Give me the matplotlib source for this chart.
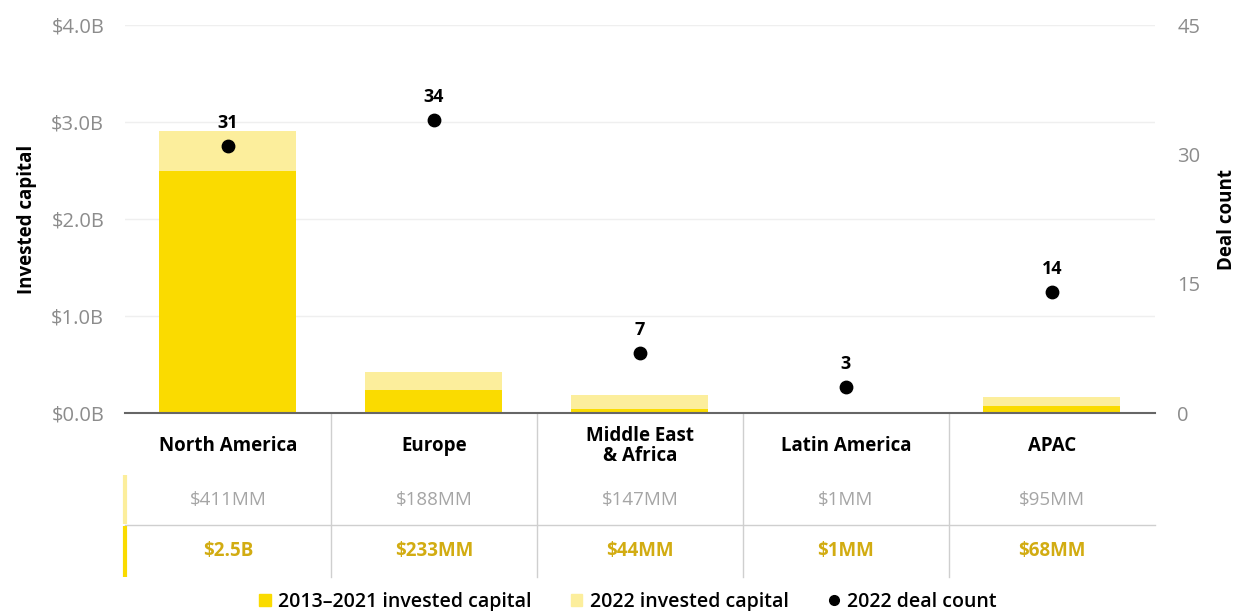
import matplotlib.pyplot as plt
from matplotlib.patches import Patch
from matplotlib.lines import Line2D

regions = ["North America", "Europe", "Middle East\n& Africa", "Latin America", "APAC"]
capital_2013_2021 = [2.5, 0.233, 0.044, 0.001, 0.068]   # $B
capital_2022 = [0.411, 0.188, 0.147, 0.001, 0.095]      # $B
deal_count_2022 = [31, 34, 7, 3, 14]
row_2022 = ["$411MM", "$188MM", "$147MM", "$1MM", "$95MM"]
row_2013_2021 = ["$2.5B", "$233MM", "$44MM", "$1MM", "$68MM"]

YELLOW = "#FADB00"
LIGHT_YELLOW = "#FCEE9C"
GOLD = "#D2AC12"
GREY = "#A5A5A5"
TICK_GREY = "#8C8C8C"

plt.rcParams['font.family'] = ['Open Sans', 'DejaVu Sans']

fig = plt.figure(figsize=(12.41, 6.11), dpi=100)
ax = fig.add_axes([0.1007, 0.324, 0.83, 0.635])
x = list(range(len(regions)))

ax.bar(x, capital_2013_2021, width=0.665, color=YELLOW, zorder=2)
ax.bar(x, capital_2022, width=0.665, bottom=capital_2013_2021, color=LIGHT_YELLOW, zorder=2)

ax.set_xlim(-0.5, len(regions) - 0.5)
ax.set_ylim(0, 4.0)
ax.set_yticks([0, 1, 2, 3, 4])
ax.set_yticklabels([f"${v:.1f}B" for v in [0, 1, 2, 3, 4]])
ax.grid(axis="y", color="#EFEFEF", linewidth=1, zorder=0)
ax.set_xticks([])
for s in ["top", "right", "left"]:
    ax.spines[s].set_visible(False)
ax.spines["bottom"].set_color("#666666")
ax.spines["bottom"].set_linewidth(1.5)
ax.tick_params(axis="y", length=0, pad=15, labelsize=14.5, labelcolor=TICK_GREY)
ax.set_ylabel("Invested capital", fontsize=13.5, fontweight="bold", labelpad=10)

ax2 = ax.twinx()
ax2.set_ylim(0, 45)
ax2.set_yticks([0, 15, 30, 45])
for s in ax2.spines.values():
    s.set_visible(False)
ax2.tick_params(axis="y", length=0, pad=16, labelsize=14.5, labelcolor=TICK_GREY)
ax2.set_ylabel("Deal count", fontsize=13.5, fontweight="bold", labelpad=12)
ax2.scatter(x, deal_count_2022, s=80, color="black", zorder=3)
for xi, n in zip(x, deal_count_2022):
    ax2.annotate(str(n), (xi, n), xytext=(0, 10), textcoords="offset points",
                 ha="center", va="bottom", fontsize=13, fontweight="bold")

# table under the bars
tr = ax.get_xaxis_transform()
for xi, name, a, b in zip(x, regions, row_2022, row_2013_2021):
    ax.text(xi, -0.085, name, transform=tr, ha="center", va="center",
            fontsize=13.5, fontweight="bold", linespacing=1.0, clip_on=False)
    ax.text(xi, -0.224, a, transform=tr, ha="center", va="center",
            fontsize=13.5, color=GREY, clip_on=False)
    ax.text(xi, -0.356, b, transform=tr, ha="center", va="center",
            fontsize=13.5, color=GOLD, fontweight="bold", clip_on=False)
for xi in x[:-1]:
    ax.plot([xi + 0.5, xi + 0.5], [0, -0.423], transform=tr, color="#CFCFCF",
            linewidth=1, clip_on=False)
ax.plot([-0.5, len(regions) - 0.5], [-0.289, -0.289], transform=tr,
        color="#CFCFCF", linewidth=1, clip_on=False)
ax.plot([-0.5, -0.5], [-0.16, -0.287], transform=tr, color=LIGHT_YELLOW,
        linewidth=3, clip_on=False, solid_capstyle="butt")
ax.plot([-0.5, -0.5], [-0.292, -0.423], transform=tr, color=YELLOW,
        linewidth=3, clip_on=False, solid_capstyle="butt")

handles = [
    Patch(color=YELLOW, label="2013–2021 invested capital"),
    Patch(color=LIGHT_YELLOW, label="2022 invested capital"),
    Line2D([], [], marker="o", linestyle="", color="black", markersize=7,
           label="2022 deal count"),
]
fig.legend(handles=handles, loc="lower center", bbox_to_anchor=(0.506, -0.03), ncol=3,
           frameon=False, handlelength=0.6, handleheight=0.6,
           handletextpad=0.4, columnspacing=2.0, prop={"size": 14, "weight": "semibold"})

fig.savefig("out.png", dpi=100)
